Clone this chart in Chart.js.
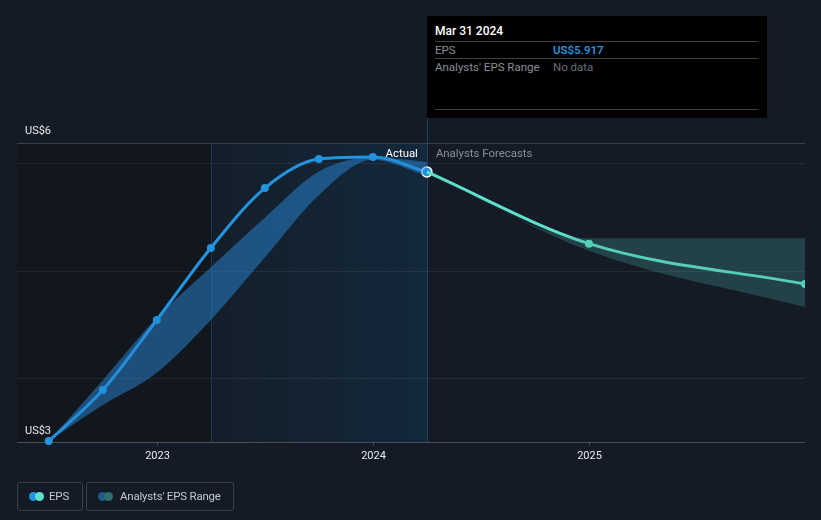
<!DOCTYPE html>
<html>
<head>
<meta charset="utf-8">
<script src="https://cdn.jsdelivr.net/npm/chart.js@4.4.0/dist/chart.umd.min.js"></script>
<style>
  body { margin: 0; background: #151b26; font-family: Roboto, "Open Sans", sans-serif; }
  #wrap { position: relative; width: 821px; height: 520px; }
  #tip { position: absolute; left: 427px; top: 16px; width: 340px; height: 102px; background: #000; }
  #tip .date { position: absolute; left: 8px; top: 8px; color: #fff; font-size: 12px; font-weight: 500; }
  #tip .row { position: absolute; left: 8px; width: 323px; height: 17px; border-top: 1px solid #3d3f43; font-size: 11.5px; color: #8a8e94; }
  #tip .row span { position: absolute; top: 1px; }
  #tip .end { position: absolute; left: 8px; top: 93px; width: 323px; border-top: 1px solid #3d3f43; }
  .leg { position: absolute; top: 482px; height: 27px; border: 1px solid #3a3f49; border-radius: 3px; color: #c3c7cd; font-size: 11.5px; letter-spacing: -0.2px; line-height: 27px; }
  .leg i { position: absolute; top: 9px; width: 9px; height: 9px; border-radius: 50%; }
</style>
</head>
<body>
<div id="wrap">
  <canvas id="chart" width="821" height="520"></canvas>
  <div id="tip">
    <div class="date">Mar 31 2024</div>
    <div class="row" style="top:25px"><span style="left:0">EPS</span><span style="left:118px;color:#2394df;font-weight:600">US$5.917</span></div>
    <div class="row" style="top:42px"><span style="left:0">Analysts' EPS Range</span><span style="left:118px;color:#6b6f75">No data</span></div>
    <div class="end"></div>
  </div>
  <div class="leg" style="left:17px;width:64px">
    <i style="left:11px;background:#2394df"></i><i style="left:17px;background:#5ee3cb"></i>
    <span style="position:absolute;left:31px">EPS</span>
  </div>
  <div class="leg" style="left:86px;width:146px">
    <i style="left:11px;background:#1f5a87"></i><i style="left:17px;background:#2f6e6a"></i>
    <span style="position:absolute;left:33px">Analysts' EPS Range</span>
  </div>
</div>
<script>
// quarter ends as decimal years
const pastX = [2022.5, 2022.75, 2023, 2023.25, 2023.5, 2023.75, 2024, 2024.25];
const epsActual = [3.414, 3.888, 4.54, 5.21, 5.767, 6.037, 6.056, 5.917];
const pastHigh = [3.414, 3.98, 4.56, 5.03, 5.49, 5.92, 6.05, 6.01];
const pastLow = [3.414, 3.75, 4.05, 4.54, 5.12, 5.70, 6.03, 5.88];

const futX = [2024.25, 2025, 2026];
const epsForecast = [5.917, 5.25, 4.874];
const futHigh = [5.917, 5.30, 5.30];
const futLow = [5.917, 5.184, 4.66];

const yearTicks = [2023, 2024, 2025];
const gridValues = [4, 5, 6];
const yMin = 3.405, yMax = 6.186;
const xMin = 2022.353, xMax = 2026;
const highlightFrom = 2023.25, nowX = 2024.25;

const pts = (xs, ys) => xs.map((x, i) => ({ x: x, y: ys[i] }));

// fondo, grilla y etiquetas
const decor = {
  id: "decor",
  beforeDatasetsDraw(chart) {
    const { ctx, chartArea: a, scales: { x, y } } = chart;
    const hx = x.getPixelForValue(highlightFrom);
    const nx = x.getPixelForValue(nowX);
    ctx.save();
    ctx.fillStyle = "#12161d";
    ctx.fillRect(a.left, a.top, hx - a.left, a.bottom - a.top);
    const g = ctx.createLinearGradient(hx, 0, nx, 0);
    g.addColorStop(0, "#141e2a");
    g.addColorStop(1, "#13283b");
    ctx.fillStyle = g;
    ctx.fillRect(hx, a.top, nx - hx, a.bottom - a.top);

    ctx.lineWidth = 1;
    ctx.strokeStyle = "rgba(255,255,255,0.07)";
    gridValues.forEach((v) => {
      const py = Math.round(y.getPixelForValue(v)) + 0.5;
      ctx.beginPath();
      ctx.moveTo(a.left, py);
      ctx.lineTo(a.right, py);
      ctx.stroke();
    });
    ctx.strokeStyle = "#3a3f48";
    ctx.beginPath();
    ctx.moveTo(a.left, Math.round(a.top) + 0.5);
    ctx.lineTo(a.right, Math.round(a.top) + 0.5);
    ctx.stroke();

    ctx.strokeStyle = "#1b3652";
    ctx.beginPath();
    ctx.moveTo(Math.round(hx) + 0.5, a.top);
    ctx.lineTo(Math.round(hx) + 0.5, a.bottom);
    ctx.stroke();
    ctx.strokeStyle = "#21405e";
    ctx.beginPath();
    ctx.moveTo(Math.round(nx) + 0.5, 118);
    ctx.lineTo(Math.round(nx) + 0.5, a.bottom);
    ctx.stroke();

    ctx.strokeStyle = "#4a4f57";
    ctx.beginPath();
    ctx.moveTo(a.left, Math.round(a.bottom) + 0.5);
    ctx.lineTo(a.right, Math.round(a.bottom) + 0.5);
    ctx.stroke();
    ctx.fillStyle = "#e8eaed";
    ctx.font = "11px Roboto";
    ctx.textAlign = "center";
    ctx.textBaseline = "middle";
    yearTicks.forEach((t) => {
      const px = Math.round(x.getPixelForValue(t)) + 0.5;
      ctx.strokeStyle = "#4a4f57";
      ctx.beginPath();
      ctx.moveTo(px, a.bottom);
      ctx.lineTo(px, a.bottom + 4);
      ctx.stroke();
      ctx.fillText(String(t), px, a.bottom + 14);
    });
    ctx.textAlign = "left";
    ctx.fillText("US$6", 25, a.top - 12);
    ctx.fillText("US$3", 25, a.bottom - 11);
    ctx.restore();
  },
  afterDatasetsDraw(chart) {
    const { ctx, scales: { x } } = chart;
    const nx = x.getPixelForValue(nowX);
    ctx.save();
    ctx.font = "11.4px Roboto";
    ctx.textBaseline = "middle";
    ctx.textAlign = "right";
    ctx.fillStyle = "#ffffff";
    ctx.fillText("Actual", nx - 9, 154);
    ctx.textAlign = "left";
    ctx.fillStyle = "#8b8f95";
    ctx.fillText("Analysts Forecasts", nx + 9, 154);
    ctx.restore();
  },
};

const lastIdx = pastX.length - 1;

new Chart(document.getElementById("chart"), {
  type: "line",
  data: {
    datasets: [
      { data: pts(pastX, pastHigh), borderWidth: 0, pointRadius: 0, fill: "+1", backgroundColor: "rgba(40,135,215,0.5)", cubicInterpolationMode: "monotone" },
      { data: pts(pastX, pastLow), borderWidth: 0, pointRadius: 0, fill: false, cubicInterpolationMode: "monotone" },
      { data: pts(futX, futHigh), borderWidth: 0, pointRadius: 0, fill: "+1", backgroundColor: "rgba(65,160,150,0.3)", cubicInterpolationMode: "monotone" },
      { data: pts(futX, futLow), borderWidth: 0, pointRadius: 0, fill: false, cubicInterpolationMode: "monotone" },
      {
        data: pts(futX, epsForecast),
        borderColor: "#5ee3cb",
        backgroundColor: "#5ee3cb",
        borderWidth: 3,
        pointRadius: (c) => (c.dataIndex === 0 ? 0 : 4),
        pointBorderWidth: 0,
        fill: false,
        cubicInterpolationMode: "monotone",
      },
      {
        data: pts(pastX, epsActual),
        borderColor: "#2394df",
        backgroundColor: "#2394df",
        borderWidth: 3,
        pointRadius: (c) => (c.dataIndex === lastIdx ? 5 : 4),
        pointBorderWidth: (c) => (c.dataIndex === lastIdx ? 1.5 : 0),
        pointBorderColor: "#ffffff",
        fill: false,
        clip: false,
        cubicInterpolationMode: "monotone",
      },
    ],
  },
  options: {
    responsive: false,
    animation: false,
    layout: { padding: { left: 17, right: 16, top: 143, bottom: 78 } },
    scales: {
      x: { type: "linear", min: xMin, max: xMax, display: false },
      y: { min: yMin, max: yMax, display: false },
    },
    plugins: { legend: { display: false }, tooltip: { enabled: false } },
  },
  plugins: [decor],
});
</script>
</body>
</html>
